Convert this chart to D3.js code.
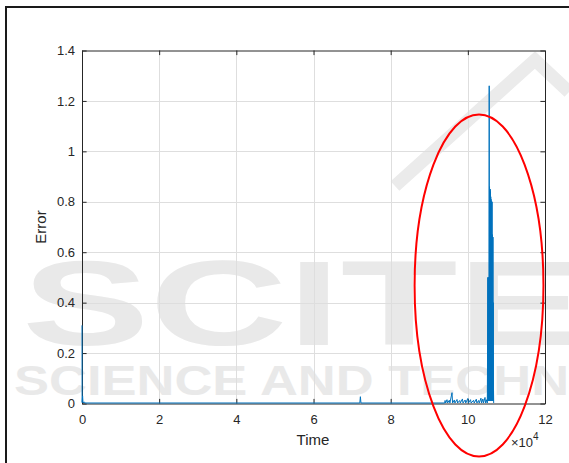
<!DOCTYPE html>
<html>
<head>
<meta charset="utf-8">
<script src="https://cdn.jsdelivr.net/npm/d3@7/dist/d3.min.js"></script>
<style>
  html, body { margin: 0; padding: 0; background: #ffffff; }
  svg { display: block; font-family: "Liberation Sans", Arial, Helvetica, sans-serif; }
</style>
</head>
<body>
<svg id="chart" width="569" height="463"></svg>
<script>
// Reconstruction error over time (time in samples, plotted ×10^4)
const timeValues = [
  0, 30, 150, 260, 600, 800,
  72000, 72150, 72300,
  94000, 94100, 94250, 94600, 94750, 95200, 95350, 95900, 96050,
  96500, 96650, 97200, 97350, 97900, 98050, 98600, 98750, 99300, 99450,
  100000, 100150, 100700, 100850, 101500, 101650, 102200, 102350,
  102800, 102950, 103400, 103550, 103900, 104050, 104450, 104600,
  104900, 105050,
  105200, 105240, 105280, 105320, 105360, 105400, 105440, 105480,
  105540, 105580, 105620, 105660, 105700, 105740, 105780, 105820,
  105860, 105900, 105940, 105980, 106020, 106060, 106100, 106140,
  106180, 106220, 106260, 106300, 106340, 106380, 106420, 106460,
  106500, 106540, 106580, 106620, 106660, 106700
];
const errorValues = [
  0.31, 0.004, 0.03, 0.003, 0.006, 0.002,
  0.002, 0.027, 0.002,
  0.002, 0.012, 0.002, 0.015, 0.002, 0.013, 0.002, 0.043, 0.002,
  0.014, 0.002, 0.016, 0.002, 0.012, 0.002, 0.018, 0.002, 0.014, 0.002,
  0.020, 0.002, 0.015, 0.002, 0.013, 0.002, 0.017, 0.002,
  0.012, 0.002, 0.021, 0.002, 0.018, 0.002, 0.024, 0.002,
  0.015, 0.002,
  0.50, 0.01, 0.50, 0.01, 0.49, 0.01, 0.50, 0.01,
  1.26, 0.01, 0.86, 0.01, 0.85, 0.01, 0.85, 0.01,
  0.84, 0.01, 0.82, 0.01, 0.81, 0.01, 0.80, 0.01,
  0.80, 0.01, 0.80, 0.01, 0.67, 0.01, 0.66, 0.01,
  0.66, 0.01, 0.40, 0.01, 0.05, 0.002
];
const xTicks = [0, 20000, 40000, 60000, 80000, 100000, 120000];
const xTickLabels = ["0", "2", "4", "6", "8", "10", "12"];
const yTicks = [0, 0.2, 0.4, 0.6, 0.8, 1, 1.2, 1.4];
const yTickLabels = ["0", "0.2", "0.4", "0.6", "0.8", "1", "1.2", "1.4"];
// highlighted region: centre (time, error) and radii in data units
const highlightCenter = [102900, 0.468];
const highlightRadii = [16700, 0.678];

const svg = d3.select("#chart");
const W = 569, H = 463;
const margin = { left: 82, right: 24, top: 50.5, bottom: 59.5 };
const plotW = W - margin.left - margin.right;
const plotH = H - margin.top - margin.bottom;

const x = d3.scaleLinear().domain([0, 120000]).range([margin.left, margin.left + plotW]);
const y = d3.scaleLinear().domain([0, 1.4]).range([margin.top + plotH, margin.top]);

const axisColor = "#262626";
const tickLen = 4.6;

// publisher watermark, underneath everything
const wm = svg.append("g").attr("fill", "#e9e9e9");
wm.append("path")
  .attr("d", "M395,186 L535,60 L569,92")
  .attr("fill", "none").attr("stroke", "#ebebeb").attr("stroke-width", 13);
wm.append("text")
  .attr("transform", "translate(22,345) scale(1.58,1)")
  .attr("font-family", "'Liberation Sans', Arial, sans-serif")
  .attr("font-weight", "bold")
  .attr("font-size", 121)
  .text("SCITEPRESS");
wm.append("text")
  .attr("transform", "translate(14,395) scale(1.25,1)")
  .attr("font-family", "'Liberation Sans', Arial, sans-serif")
  .attr("font-weight", "bold")
  .attr("font-size", 42)
  .text("SCIENCE AND TECHNOLOGY");

// outer frame
svg.append("path")
  .attr("d", "M6,470 L6,7 L575,7")
  .attr("fill", "none").attr("stroke", "#1a1a1a").attr("stroke-width", 2);

// grid
const grid = svg.append("g").attr("stroke", "#dedede").attr("stroke-width", 1);
grid.selectAll("line.gx").data(xTicks.slice(1, -1)).join("line")
  .attr("x1", d => Math.round(x(d)) + 0.5).attr("x2", d => Math.round(x(d)) + 0.5)
  .attr("y1", margin.top).attr("y2", margin.top + plotH);
grid.selectAll("line.gy").data(yTicks.slice(1, -1)).join("line")
  .attr("y1", d => Math.round(y(d)) + 0.5).attr("y2", d => Math.round(y(d)) + 0.5)
  .attr("x1", margin.left).attr("x2", margin.left + plotW);

// axes (ticks point inward on all four sides)
function styleAxis(g) {
  g.selectAll("path.domain").attr("stroke", axisColor).attr("stroke-width", 1);
  g.selectAll(".tick line").attr("stroke", axisColor).attr("stroke-width", 1);
  g.selectAll(".tick text").attr("fill", axisColor).attr("font-size", 13);
}
const gxB = svg.append("g").attr("transform", `translate(0,${margin.top + plotH})`)
  .call(d3.axisBottom(x).tickValues(xTicks).tickFormat((d, i) => xTickLabels[i])
    .tickSizeInner(-tickLen).tickSizeOuter(0).tickPadding(11.5));
styleAxis(gxB);
const gxT = svg.append("g").attr("transform", `translate(0,${margin.top})`)
  .call(d3.axisTop(x).tickValues(xTicks).tickFormat("").tickSizeInner(-tickLen).tickSizeOuter(0));
styleAxis(gxT);
const gyL = svg.append("g").attr("transform", `translate(${margin.left},0)`)
  .call(d3.axisLeft(y).tickValues(yTicks).tickFormat((d, i) => yTickLabels[i])
    .tickSizeInner(-tickLen).tickSizeOuter(0).tickPadding(7));
styleAxis(gyL);
const gyR = svg.append("g").attr("transform", `translate(${margin.left + plotW},0)`)
  .call(d3.axisRight(y).tickValues(yTicks).tickFormat("").tickSizeInner(-tickLen).tickSizeOuter(0));
styleAxis(gyR);

// error trace
const pts = timeValues.map((t, i) => [t, errorValues[i]]);
svg.append("path")
  .datum(pts)
  .attr("fill", "none")
  .attr("stroke", "#0072BD")
  .attr("stroke-width", 1)
  .attr("d", d3.line().x(d => x(d[0])).y(d => y(d[1])));

// highlight ellipse
svg.append("ellipse")
  .attr("cx", x(highlightCenter[0]))
  .attr("cy", y(highlightCenter[1]))
  .attr("rx", x(highlightRadii[0]) - x(0))
  .attr("ry", y(0) - y(highlightRadii[1]))
  .attr("fill", "none").attr("stroke", "#ff0000").attr("stroke-width", 2);

// axis titles
svg.append("text")
  .attr("x", margin.left + plotW / 2 - 0.5).attr("y", 445)
  .attr("text-anchor", "middle").attr("font-size", 15).attr("fill", axisColor)
  .text("Time");
svg.append("text")
  .attr("transform", `translate(46,${margin.top + plotH / 2}) rotate(-90)`)
  .attr("text-anchor", "middle").attr("font-size", 15).attr("fill", axisColor)
  .text("Error");

// exponent label
const expo = svg.append("text")
  .attr("x", 511).attr("y", 447).attr("font-size", 13).attr("fill", axisColor);
expo.append("tspan").text("×10");
expo.append("tspan").attr("font-size", 10).attr("dy", -7).text("4");
</script>
</body>
</html>
